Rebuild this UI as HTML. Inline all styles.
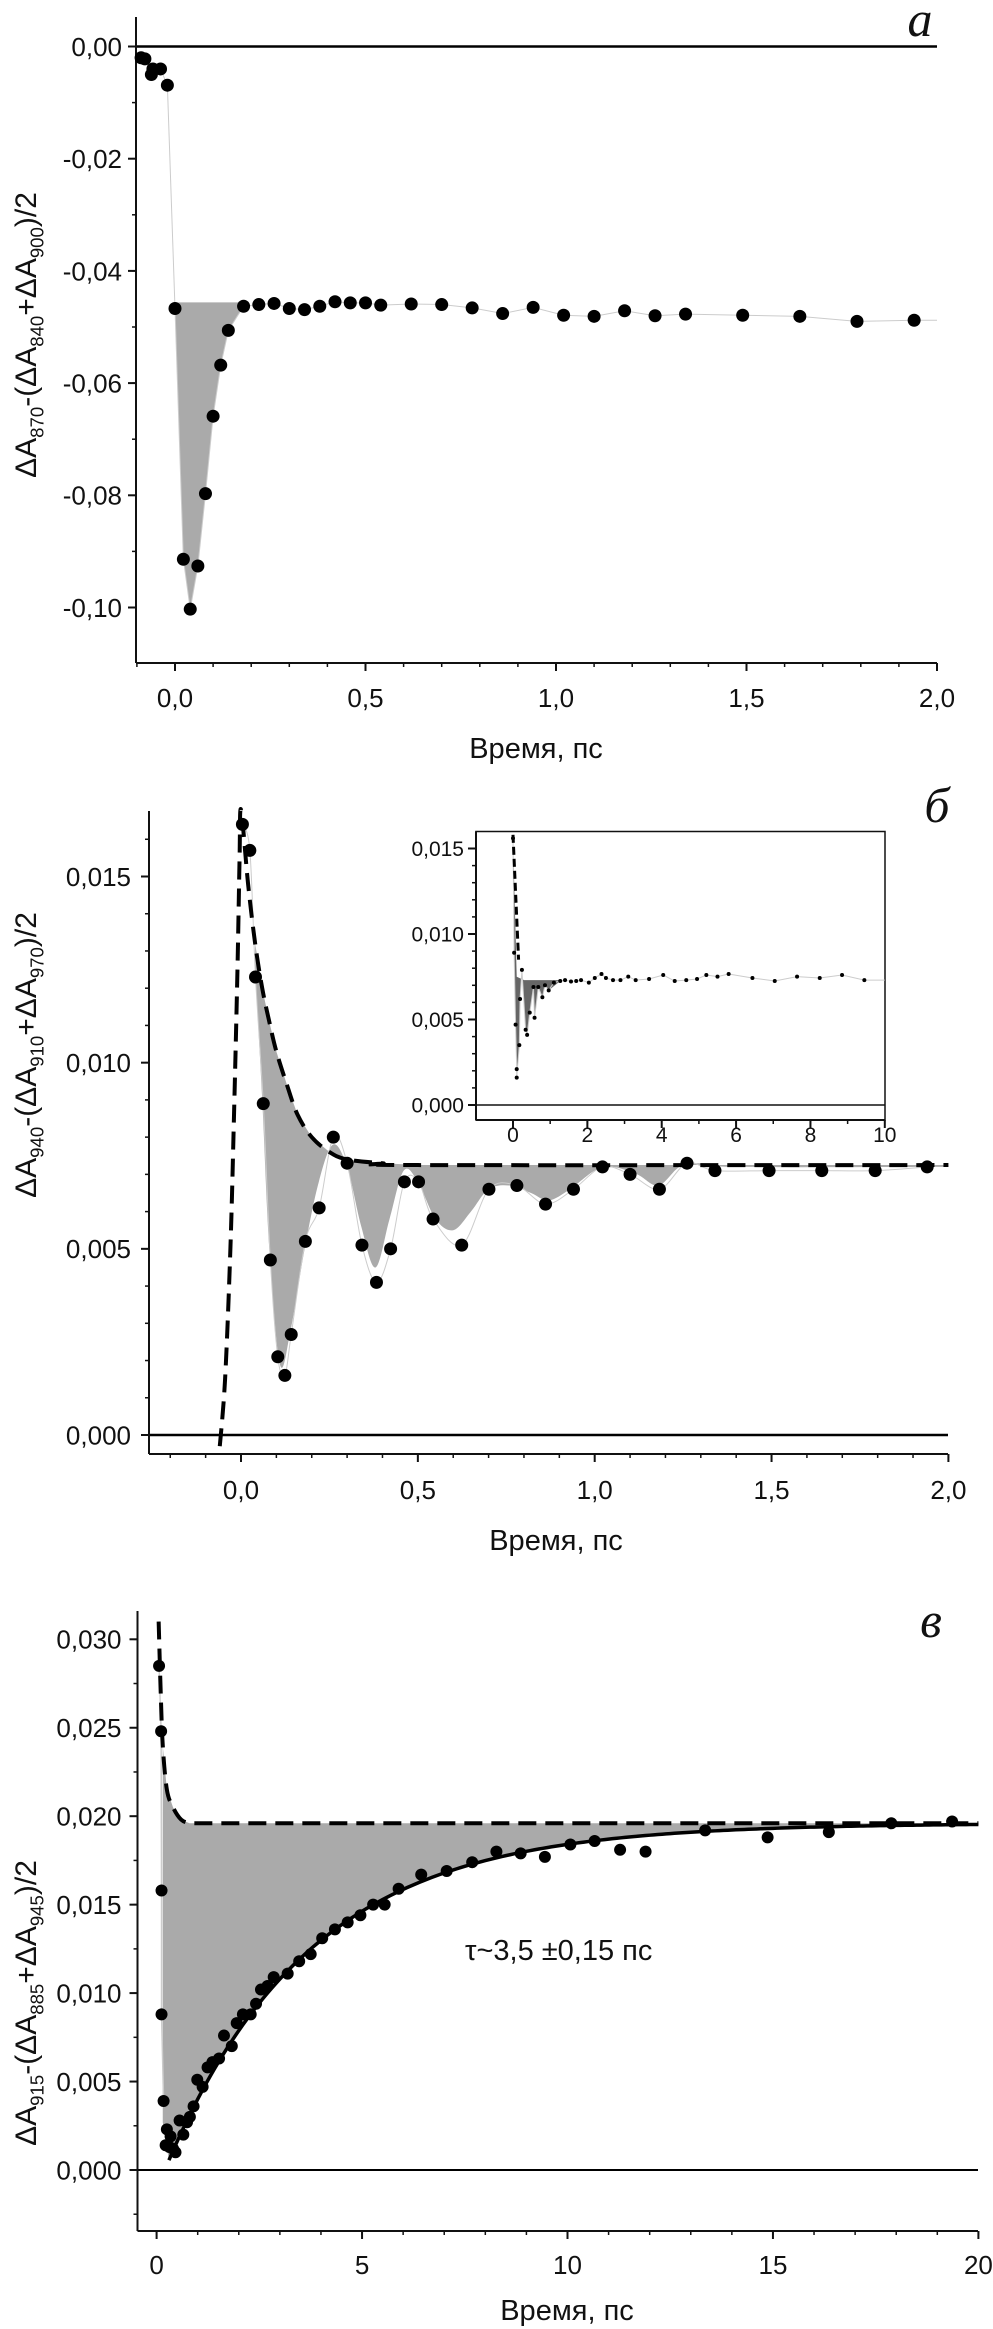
<!DOCTYPE html>
<html><head><meta charset="utf-8"><style>
html,body{margin:0;padding:0;background:#fff}
svg{display:block}
text{font-family:"Liberation Sans",sans-serif;fill:#111}
</style></head><body>
<svg id="fig" width="993" height="2329" viewBox="0 0 993 2329" xmlns="http://www.w3.org/2000/svg"></svg>
<script>
// ---------- Panel a data ----------
const aX=[-0.089,-0.079,-0.062,-0.058,-0.038,-0.02,0,0.022,0.04,0.06,0.08,0.1,0.12,0.14,0.18,0.22,0.26,0.3,0.34,0.38,0.42,0.46,0.5,0.54,0.62,0.7,0.78,0.86,0.94,1.02,1.1,1.18,1.26,1.34,1.49,1.64,1.79,1.94];
const aY=[-0.002,-0.0022,-0.005,-0.004,-0.004,-0.0069,-0.0467,-0.0914,-0.1003,-0.0926,-0.0797,-0.0659,-0.0568,-0.0506,-0.0463,-0.046,-0.0458,-0.0467,-0.0469,-0.0463,-0.0455,-0.0457,-0.0457,-0.0461,-0.0459,-0.046,-0.0466,-0.0476,-0.0465,-0.0479,-0.0481,-0.0471,-0.048,-0.0477,-0.0479,-0.0481,-0.049,-0.0488];
const aBase=-0.0456;
const aYTicks=[0,-0.02,-0.04,-0.06,-0.08,-0.10];
const aYLabels=["0,00","-0,02","-0,04","-0,06","-0,08","-0,10"];
const aXTicks=[0,0.5,1,1.5,2];
const aXLabels=["0,0","0,5","1,0","1,5","2,0"];
// ---------- Panel b data ----------
const bX=[0.004,0.025,0.041,0.063,0.083,0.104,0.124,0.142,0.182,0.221,0.261,0.3,0.342,0.383,0.423,0.462,0.502,0.543,0.624,0.701,0.78,0.861,0.94,1.022,1.1,1.183,1.261,1.34,1.493,1.642,1.793,1.94];
const bY=[0.0164,0.0157,0.0123,0.0089,0.0047,0.0021,0.0016,0.0027,0.0052,0.0061,0.008,0.0073,0.0051,0.0041,0.005,0.0068,0.0068,0.0058,0.0051,0.0066,0.0067,0.0062,0.0066,0.0072,0.007,0.0066,0.0073,0.0071,0.0071,0.0071,0.0071,0.0072];
const bEnvX=[-0.06,-0.045,-0.03,-0.02,-0.01,-0.004,0,0.02,0.04,0.06,0.08,0.1,0.13,0.16,0.2,0.25,0.3,0.4,0.5,2.0];
const bEnvY=[-0.0003,0.0015,0.005,0.0085,0.0125,0.0155,0.0168,0.0148,0.0132,0.012,0.0111,0.0103,0.0094,0.0086,0.008,0.0076,0.0074,0.0073,0.00725,0.00725];
const bLowX=[0.041,0.06,0.08,0.11,0.14,0.18,0.22,0.26,0.30,0.34,0.38,0.42,0.46,0.50,0.55,0.60,0.65,0.70,0.76,0.82,0.87,0.93,1.0,1.05,1.12,1.18,1.24,1.3,1.4,2.0];
const bLowY=[0.0123,0.009,0.005,0.0019,0.0028,0.005,0.0068,0.0078,0.0072,0.0056,0.0045,0.0058,0.0071,0.0068,0.0058,0.0055,0.006,0.0066,0.0067,0.0065,0.0063,0.0066,0.0071,0.0072,0.007,0.0067,0.0072,0.0073,0.0072,0.0072];
const bYTicks=[0,0.005,0.010,0.015];
const bYLabels=["0,000","0,005","0,010","0,015"];
const bXTicks=[0,0.5,1,1.5,2];
const bXLabels=["0,0","0,5","1,0","1,5","2,0"];
// inset
const iX=[0,0.03,0.07,0.1,0.1,0.17,0.19,0.24,0.34,0.38,0.45,0.55,0.58,0.68,0.79,0.86,0.96,1.1,1.27,1.4,1.56,1.7,1.83,2.04,2.2,2.38,2.5,2.69,2.89,3.1,3.3,3.66,4.04,4.35,4.66,4.95,5.2,5.5,5.8,6.44,7.04,7.64,8.25,8.85,9.45];
const iY=[0.0156,0.0089,0.0047,0.0021,0.0016,0.0035,0.0062,0.0079,0.0044,0.0041,0.0054,0.0069,0.0051,0.0069,0.0063,0.007,0.0067,0.00716,0.00725,0.0073,0.00722,0.00725,0.0073,0.00716,0.00743,0.00766,0.00743,0.0073,0.0073,0.00751,0.0073,0.00737,0.0076,0.00725,0.0073,0.00737,0.0076,0.00751,0.00766,0.00743,0.00725,0.00751,0.00743,0.0076,0.0073];
const iYTicks=[0,0.005,0.010,0.015];
const iYLabels=["0,000","0,005","0,010","0,015"];
const iXTicks=[0,2,4,6,8,10];
const iXLabels=["0","2","4","6","8","10"];
// ---------- Panel c data ----------
const cX=[0.06,0.11,0.12,0.12,0.17,0.22,0.25,0.31,0.34,0.4,0.46,0.56,0.65,0.74,0.81,0.9,0.99,1.12,1.24,1.36,1.52,1.64,1.83,1.95,2.1,2.29,2.42,2.54,2.7,2.85,3.19,3.47,3.75,4.03,4.34,4.65,4.96,5.27,5.55,5.89,6.44,7.06,7.68,8.27,8.86,9.45,10.07,10.66,11.28,11.9,13.35,14.87,16.36,17.88,19.36];
const cY=[0.0285,0.0248,0.0158,0.0088,0.0039,0.0014,0.0023,0.0013,0.0019,0.0012,0.001,0.0028,0.002,0.0027,0.003,0.0036,0.0051,0.0047,0.0058,0.0061,0.0063,0.0076,0.007,0.0083,0.0088,0.0088,0.0094,0.0102,0.0104,0.0109,0.0111,0.0118,0.0122,0.0131,0.0136,0.014,0.0144,0.015,0.015,0.0159,0.0167,0.0169,0.0174,0.018,0.0179,0.0177,0.0184,0.0186,0.0181,0.018,0.0192,0.0188,0.0191,0.0196,0.0197];
const cEnvX=[0.05,0.1,0.15,0.25,0.4,0.6,0.8,20];
const cEnvY=[0.031,0.027,0.024,0.0215,0.0205,0.0198,0.0196,0.0196];
const cFitAmp=[0.0196];
const cFitTau=[3.5];
const cFitT0=[0.2];
const cYTicks=[0,0.005,0.010,0.015,0.020,0.025,0.030];
const cYLabels=["0,000","0,005","0,010","0,015","0,020","0,025","0,030"];
const cXTicks=[0,5,10,15,20];
const cXLabels=["0","5","10","15","20"];

// ---------- helpers ----------
const NS="http://www.w3.org/2000/svg";
const svg=document.getElementById('fig');
function el(tag,attrs,parent){const e=document.createElementNS(NS,tag);for(const k in attrs)e.setAttribute(k,attrs[k]);(parent||svg).appendChild(e);return e;}
function lin(d0,d1,r0,r1){return v=>r0+(v-d0)*(r1-r0)/(d1-d0);}
function smooth(pts){let d="M"+pts[0][0]+","+pts[0][1];for(let i=0;i<pts.length-1;i++){const p0=pts[Math.max(0,i-1)],p1=pts[i],p2=pts[i+1],p3=pts[Math.min(pts.length-1,i+2)];const c1=[p1[0]+(p2[0]-p0[0])/6,p1[1]+(p2[1]-p0[1])/6],c2=[p2[0]-(p3[0]-p1[0])/6,p2[1]-(p3[1]-p1[1])/6];d+=" C"+c1[0]+","+c1[1]+" "+c2[0]+","+c2[1]+" "+p2[0]+","+p2[1];}return d;}
function poly(xs,ys,X,Y){return xs.map((x,i)=>[X(x),Y(ys[i])]);}

function axes(g,o){
  // y axis line
  const yl=el('line',{x1:o.ax,y1:o.top,x2:o.ax,y2:o.bot,stroke:'#111','stroke-width':2},g);
  
  
  const xl=el('line',{x1:o.ax,y1:o.bot,x2:o.right,y2:o.bot,stroke:'#111','stroke-width':2},g);
  
  
  // minor y ticks
  for(let v=o.yMinorStart;v<=o.yMax+1e-9;v+=o.yMinor){const y=o.Y(v);if(y<o.top||y>o.bot)continue;el('line',{x1:o.ax-4,y1:y,x2:o.ax,y2:y,stroke:'#111','stroke-width':1.5},g);}
  o.yTicks.forEach((v,i)=>{const y=o.Y(v);el('line',{x1:o.ax-8,y1:y,x2:o.ax,y2:y,stroke:'#111','stroke-width':2},g);
    const t=el('text',{x:o.ax-o.lgap,y:y+o.fs*0.36,'text-anchor':'end','font-size':o.fs},g);t.textContent=o.yLabels[i];
    
    });
  for(let v=o.xMinorStart;v<=o.xMax+1e-9;v+=o.xMinor){const x=o.X(v);if(x<o.ax||x>o.right+0.5)continue;el('line',{x1:x,y1:o.bot,x2:x,y2:o.bot+4,stroke:'#111','stroke-width':1.5},g);}
  o.xTicks.forEach((v,i)=>{const x=o.X(v);el('line',{x1:x,y1:o.bot,x2:x,y2:o.bot+8,stroke:'#111','stroke-width':2},g);
    const t=el('text',{x:x,y:o.xly,'text-anchor':'middle','font-size':o.fs},g);t.textContent=o.xLabels[i];
    
    });
}
function dots(g,xs,ys,X,Y,r,name){xs.forEach((x,i)=>{const c=el('circle',{cx:X(x),cy:Y(ys[i]),r:r,fill:'#000'},g);
  
  });}
function ytitle(g,cx,cy,a,b,c,fs){
  const t=el('text',{transform:`translate(${cx},${cy}) rotate(-90)`,'text-anchor':'middle','font-size':fs},g);
  
  
  const sub=fs*0.62;
  t.innerHTML=`ΔA<tspan font-size="${sub}" dy="${fs*0.25}">${a}</tspan><tspan dy="${-fs*0.25}">-(ΔA</tspan><tspan font-size="${sub}" dy="${fs*0.25}">${b}</tspan><tspan dy="${-fs*0.25}">+ΔA</tspan><tspan font-size="${sub}" dy="${fs*0.25}">${c}</tspan><tspan dy="${-fs*0.25}">)/2</tspan>`;
}
function xtitle(g,x,y){const t=el('text',{x:x,y:y,'text-anchor':'middle','font-size':29},g);t.textContent='Время, пс';
  
  }
function letter(g,x,y,s){const t=el('text',{x:x,y:y,'text-anchor':'middle','font-size':50,'font-style':'italic',style:'font-family:"Liberation Serif",serif'},g);t.textContent=s;
  
  }

// ---------- Panel a ----------
{
const g=el('g',{});


const X=lin(0,2,175,937),Y=lin(0,-0.1,46.5,607.5);
// fill
const fx=aX.filter((x,i)=>x>=0&&x<=0.18),fy=aY.filter((y,i)=>aX[i]>=0&&aX[i]<=0.18);
let pts=poly(fx,fy,X,Y);pts.push([X(0.18),Y(aBase)]);pts.push([X(0),Y(aBase)]);
const f=el('polygon',{points:pts.map(p=>p.join(',')).join(' '),fill:'#aaa'},g);


const lp=poly(aX.concat([2]),aY.concat([aY[aY.length-1]]),X,Y);
const ln=el('polyline',{points:lp.map(p=>p.join(',')).join(' '),fill:'none',stroke:'#ccc','stroke-width':1},g);


const z=el('line',{x1:136,y1:Y(0),x2:937,y2:Y(0),stroke:'#000','stroke-width':2.5},g);


axes(g,{ax:136,top:17,bot:663,right:937,X,Y,yTicks:aYTicks,yLabels:aYLabels,yMinor:0.01,yMinorStart:-0.11,yMax:0.005,xTicks:aXTicks,xLabels:aXLabels,xMinor:0.1,xMinorStart:-0.1,xMax:2,fs:26,lgap:14,xly:707});
dots(g,aX,aY,X,Y,6.5,'data-point');
ytitle(g,36,335,'870','840','900',30);
xtitle(g,536,758);
letter(g,920,36,'а');
}
// ---------- Panel b ----------
{
const g=el('g',{});


const X=lin(0,2,241,948.4),Y=lin(0,0.015,1435,876.5);
// fill between envelope and lower edge
const up=[];for(let i=0;i<bEnvX.length;i++){if(bEnvX[i]>=0.04)up.push([X(bEnvX[i]),Y(bEnvY[i])]);}
const lowPts=poly(bLowX,bLowY,X,Y);
const d=smooth(lowPts)+" L"+X(2)+","+Y(0.00725)+" "+up.slice().reverse().map(p=>"L"+p[0]+","+p[1]).join(" ")+" Z";
const f=el('path',{d:d,fill:'#aaa'},g);


const ln=el('path',{d:smooth(poly(bX,bY,X,Y)),fill:'none',stroke:'#ccc','stroke-width':1},g);


const z=el('line',{x1:149,y1:Y(0),x2:948,y2:Y(0),stroke:'#000','stroke-width':2.5},g);


axes(g,{ax:149,top:811,bot:1454,right:948,X,Y,yTicks:bYTicks,yLabels:bYLabels,yMinor:0.001,yMinorStart:0,yMax:0.0168,xTicks:bXTicks,xLabels:bXLabels,xMinor:0.1,xMinorStart:-0.2,xMax:2,fs:26,lgap:18,xly:1499});
const env=el('path',{d:smooth(poly(bEnvX,bEnvY,X,Y)),fill:'none',stroke:'#000','stroke-width':4,'stroke-dasharray':'18 9'},g);


dots(g,bX,bY,X,Y,6.5,'data-point');
ytitle(g,36,1055,'940','910','970',30);
xtitle(g,556,1550);
letter(g,937,822,'б');
// inset
const gi=el('g',{},g);


const IX=lin(0,10,513,884.8),IY=lin(0,0.015,1105,848.5);
el('rect',{x:476,y:831.5,width:409,height:288.5,fill:'#fff',stroke:'#111','stroke-width':1.5},gi);
const iu=[[IX(0.04),IY(0.0125)],[IX(0.3),IY(0.0075)],[IX(1.3),IY(0.0073)]];
const ilow=poly(iX.slice(0,17),iY.slice(0,17),IX,IY);
let ip=ilow.concat([[IX(1.3),IY(0.0073)],[IX(0.3),IY(0.0073)],[IX(0.1),IY(0.0075)]]);
const ifl=el('polygon',{points:ip.map(p=>p.join(',')).join(' '),fill:'#666'},gi);


const il=el('polyline',{points:poly(iX.concat([10]),iY.concat([0.0073]),IX,IY).map(p=>p.join(',')).join(' '),fill:'none',stroke:'#ccc','stroke-width':1},gi);


el('line',{x1:476,y1:IY(0),x2:885,y2:IY(0),stroke:'#111','stroke-width':1.5},gi);
const ienv=el('path',{d:"M"+IX(0)+","+IY(0.0158)+" L"+IX(0.15)+","+IY(0.0085),fill:'none',stroke:'#000','stroke-width':3,'stroke-dasharray':'8 4'},gi);


axes(gi,{ax:476,top:831.5,bot:1120,right:885,X:IX,Y:IY,yTicks:iYTicks,yLabels:iYLabels,yMinor:0.001,yMinorStart:0,yMax:0.016,xTicks:iXTicks,xLabels:iXLabels,xMinor:1,xMinorStart:-1,xMax:10,fs:21,lgap:12,xly:1142});
dots(gi,iX,iY,IX,IY,2,'inset-data-point');
}
// ---------- Panel c ----------
{
const g=el('g',{});


const X=lin(0,20,156.6,978.4),Y=lin(0,0.005,2170,2081.55);
const A=cFitAmp[0],tau=cFitTau[0],t0=cFitT0[0];
const fit=[];for(let t=0.3;t<=20.001;t+=0.1){fit.push([X(t),Y(A*(1-Math.exp(-(t-t0)/tau)))]);}
// fill
const up=[[X(0.15),Y(0.0275)]].concat(poly(cEnvX.slice(2),cEnvY.slice(2),X,Y));
let d="M"+up.map(p=>p.join(',')).join(" L")+" L"+fit.slice().reverse().map(p=>p.join(',')).join(" L")+" L"+X(0.15)+","+Y(0.0027)+" Z";
const f=el('path',{d:d,fill:'#aaa'},g);


const ln=el('polyline',{points:poly(cX.slice(0,5),cY.slice(0,5),X,Y).map(p=>p.join(',')).join(' '),fill:'none',stroke:'#ccc','stroke-width':1.5},g);


const z=el('line',{x1:137.5,y1:Y(0),x2:978,y2:Y(0),stroke:'#000','stroke-width':2},g);


axes(g,{ax:137.5,top:1611,bot:2231,right:978,X,Y,yTicks:cYTicks,yLabels:cYLabels,yMinor:0.0025,yMinorStart:-0.0025,yMax:0.031,xTicks:cXTicks,xLabels:cXLabels,xMinor:1,xMinorStart:0,xMax:20,fs:26,lgap:16,xly:2274});
const fl=el('polyline',{points:fit.map(p=>p.join(',')).join(' '),fill:'none',stroke:'#000','stroke-width':3.5},g);


const env=el('path',{d:smooth(poly(cEnvX.slice(0,7),cEnvY.slice(0,7),X,Y))+" L"+X(20)+","+Y(0.0196),fill:'none',stroke:'#000','stroke-width':4,'stroke-dasharray':'18 9'},g);


dots(g,cX,cY,X,Y,6,'data-point');
ytitle(g,36,2003,'915','885','945',30);
xtitle(g,567,2320);
letter(g,931,1637,'в');
const tt=el('text',{x:465,y:1960,'font-size':29},g);tt.textContent='τ~3,5 ±0,15 пс';


}
</script>
</body></html>
